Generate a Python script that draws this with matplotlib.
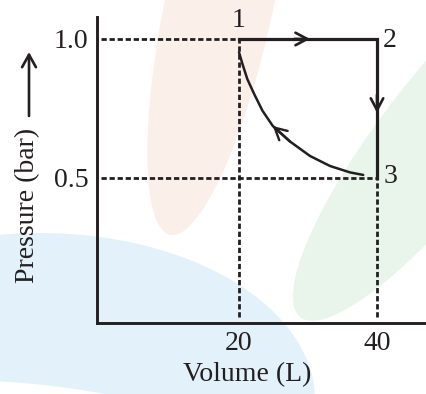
import numpy as np
import matplotlib
matplotlib.use("Agg")
import matplotlib.pyplot as plt
from matplotlib.patches import Ellipse, FancyArrowPatch

plt.rcParams['font.family'] = ['Liberation Serif', 'DejaVu Serif']

# Data
state_v = [20, 40, 40]          # states 1 -> 2 -> 3
state_p = [1.0, 1.0, 0.5]
state_names = ['1', '2', '3']
# curve 3 -> 1
curve_v = [20.0, 20.5, 21.2, 22.2, 23.4, 24.9, 27.4, 30.3, 33.2, 36.1, 38.0]
curve_p = [0.952, 0.910, 0.856, 0.802, 0.742, 0.687, 0.631, 0.579, 0.543, 0.520, 0.511]
x_ticks = [20, 40]
y_ticks = [0.5, 1.0]

ink = '#231f20'
W, H = 426, 394

fig = plt.figure(figsize=(W / 100, H / 100), dpi=100)

# watermark blobs in the background (figure pixel space)
bg = fig.add_axes([0, 0, 1, 1], zorder=0)
bg.set_xlim(0, W)
bg.set_ylim(H, 0)
bg.axis('off')
bg.add_patch(Ellipse((220, 0), 108, 480, angle=12, color='#fbefea', lw=0))
bg.add_patch(Ellipse((445, 132), 470, 120, angle=-52, color='#e9f5eb', lw=0))
bg.add_patch(Ellipse((40, 400), 550, 334, color='#e3f2fa', lw=0))
bg.add_patch(Ellipse((-50, 560), 800, 360, color='white', lw=0))

# main axes placed so that ticks land where they are in the picture
ax = fig.add_axes([97 / W, (H - 323) / H, (W - 97) / W, (323 - 17) / H], zorder=1)
ax.set_facecolor('none')
ax.set_xlim(-0.58, 47.1)
ax.set_ylim(-0.0216, 1.079)
for s in ['top', 'right']:
    ax.spines[s].set_visible(False)
for s in ['left', 'bottom']:
    ax.spines[s].set_linewidth(2.1)
    ax.spines[s].set_color(ink)

ax.set_xticks(x_ticks)
ax.set_xticklabels([str(v) for v in x_ticks])
ax.set_yticks(y_ticks)
ax.set_yticklabels(['%.1f' % v for v in y_ticks])
ax.tick_params(length=0, labelsize=20, colors=ink, pad=6)

# dashed guides
dash = dict(color=ink, lw=2.0, dashes=(1.9, 1.0))
ax.plot([0, state_v[0]], [state_p[0]] * 2, **dash)
ax.plot([0, state_v[2]], [state_p[2]] * 2, **dash)
ax.plot([state_v[0]] * 2, [0, state_p[0]], **dash)
ax.plot([state_v[2]] * 2, [0, state_p[2]], **dash)

# solid path 1 -> 2 -> 3
ax.plot(state_v, state_p, color=ink, lw=2.3, solid_joinstyle='miter')
# curve 3 -> 1
ax.plot(curve_v, curve_p, color=ink, lw=1.8, solid_capstyle='round')

# arrow heads
head = dict(arrowstyle='->, head_length=0.85, head_width=0.45', color=ink, lw=1.9,
            shrinkA=0, shrinkB=0, mutation_scale=10)
ax.annotate('', xy=(30.3, 1.0), xytext=(28.0, 1.0), arrowprops=head)
ax.annotate('', xy=(40, 0.734), xytext=(40, 0.80), arrowprops=head)
ax.annotate('', xy=(curve_v[5], curve_p[5]), xytext=(curve_v[6], curve_p[6]),
            arrowprops=dict(head, lw=1.7))

# state labels
ax.text(20, 1.068, state_names[0], ha='center', va='center', fontsize=20, color=ink)
ax.text(40.9, 0.995, state_names[1], ha='left', va='center', fontsize=20, color=ink)
ax.text(40.9, 0.507, state_names[2], ha='left', va='center', fontsize=20, color=ink)

# axis titles
fig.text(247 / W, 1 - 375 / H, 'Volume (L)', ha='center', va='center',
         fontsize=20, color=ink)
fig.text(28 / W, 1 - 205 / H, 'Pressure (bar)', rotation=90, ha='center',
         va='center', fontsize=20, color=ink)
fig.add_artist(FancyArrowPatch(
    (29 / W, 1 - 116 / H), (29 / W, 1 - 52 / H), transform=fig.transFigure,
    arrowstyle='->, head_length=0.9, head_width=0.5', mutation_scale=10,
    color=ink, lw=1.9, shrinkA=0, shrinkB=0))

fig.savefig('out.png', dpi=100)
